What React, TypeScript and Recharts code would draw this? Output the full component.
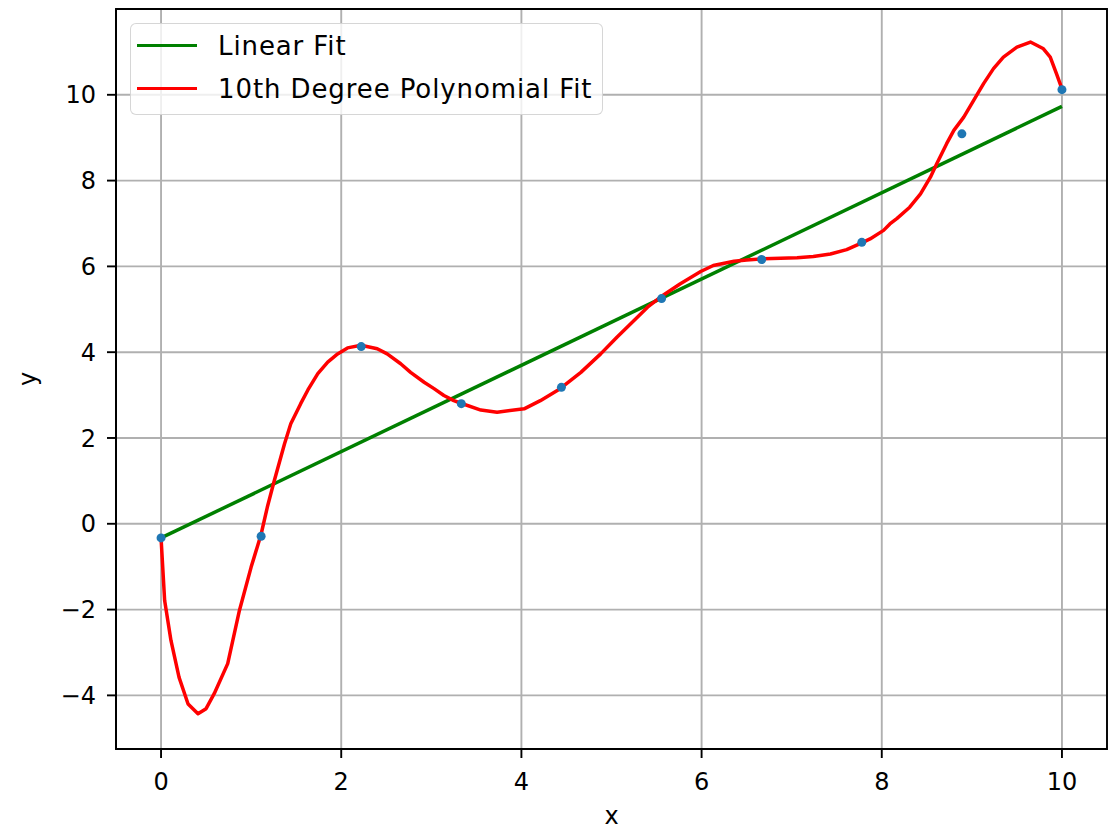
import { ComposedChart, Line, Scatter, XAxis, YAxis, CartesianGrid, ReferenceArea } from 'recharts';

const FONT = '"DejaVu Sans", sans-serif';
const GREEN = '#008000';
const RED = '#ff0000';
const BLUE = '#1f77b4';

// observed samples
const sampleX = [0, 1.111, 2.222, 3.333, 4.444, 5.556, 6.667, 7.778, 8.889, 10];
const sampleY = [-0.33, -0.29, 4.13, 2.8, 3.18, 5.25, 6.16, 6.56, 9.09, 10.12];

// linear fit end points
const linearX = [0, 10];
const linearY = [-0.33, 9.73];

// 10th degree polynomial
const polyX = [
  0, 0.04, 0.11, 0.2, 0.3, 0.41, 0.5, 0.59, 0.74, 0.87, 1.0, 1.11, 1.18, 1.25, 1.37, 1.44,
  1.55, 1.63, 1.74, 1.85, 1.96, 2.07, 2.22, 2.4, 2.51, 2.66, 2.77, 2.92, 3.03, 3.14, 3.25,
  3.33, 3.55, 3.73, 4.03, 4.21, 4.43, 4.66, 4.88, 5.06, 5.25, 5.4, 5.54, 5.76, 5.99, 6.13,
  6.36, 6.5, 6.69, 7.06, 7.24, 7.43, 7.61, 7.76, 7.87, 8.02, 8.09, 8.17, 8.31, 8.43, 8.54,
  8.61, 8.72, 8.8, 8.91, 9.02, 9.13, 9.24, 9.35, 9.5, 9.65, 9.79, 9.87, 9.94, 10.0,
];
const polyY = [
  -0.33, -1.79, -2.72, -3.58, -4.2, -4.43, -4.31, -3.96, -3.26, -2.02, -1.01, -0.25, 0.39,
  0.95, 1.86, 2.33, 2.8, 3.12, 3.5, 3.77, 3.96, 4.1, 4.16, 4.08, 3.96, 3.73, 3.53, 3.3, 3.15,
  2.99, 2.87, 2.81, 2.65, 2.6, 2.68, 2.87, 3.15, 3.53, 3.96, 4.35, 4.74, 5.05, 5.28, 5.59,
  5.88, 6.02, 6.12, 6.15, 6.18, 6.2, 6.23, 6.29, 6.39, 6.53, 6.64, 6.84, 6.99, 7.12, 7.38,
  7.69, 8.08, 8.39, 8.86, 9.17, 9.48, 9.87, 10.26, 10.61, 10.88, 11.11, 11.23, 11.08, 10.88,
  10.49, 10.14,
];

const xTicks = [0, 2, 4, 6, 8, 10];
const yTicks = [-4, -2, 0, 2, 4, 6, 8, 10];
const xDomain = [-0.5, 10.5];
const yDomain = [-5.25, 12.0];

const samples = sampleX.map((x, i) => ({ x, y: sampleY[i] }));
const linear = linearX.map((x, i) => ({ x, y: linearY[i] }));
const poly = polyX.map((x, i) => ({ x, y: polyY[i] }));

const fmt = (v: number) => (v < 0 ? `\u2212${-v}` : `${v}`);

const tickStyle = { fill: '#000', fontSize: 24, fontFamily: FONT };
const spine = { stroke: '#000', strokeWidth: 1.9 };

const YTitle = ({ viewBox }: { viewBox?: { x: number; y: number; width: number; height: number } }) => {
  if (!viewBox) return null;
  const cy = viewBox.y + viewBox.height / 2;
  return (
    <text x={36} y={cy} transform={`rotate(-90, 36, ${cy})`} textAnchor="middle" fill="#000" fontSize={24} fontFamily={FONT}>
      y
    </text>
  );
};

const LegendBox = () => (
  <div
    style={{
      position: 'absolute',
      left: 130,
      top: 23,
      width: 471,
      height: 90,
      border: '1.5px solid rgba(204,204,204,0.8)',
      borderRadius: 6,
      background: 'rgba(255,255,255,0.8)',
      fontFamily: FONT,
      fontSize: 26,
      letterSpacing: 0.9,
      color: '#000',
    }}
  >
    {[
      { name: 'Linear Fit', color: GREEN },
      { name: '10th Degree Polynomial Fit', color: RED },
    ].map((item) => (
      <div key={item.name} style={{ display: 'flex', alignItems: 'center', height: 43 }}>
        <div style={{ marginLeft: 6, width: 60, height: 3.5, background: item.color }} />
        <span style={{ marginLeft: 21, lineHeight: '26px', whiteSpace: 'nowrap' }}>{item.name}</span>
      </div>
    ))}
  </div>
);

export default function App() {
  return (
    <div style={{ position: 'absolute', left: 0, top: 0, width: 1119, height: 830, background: '#fff' }}>
      <ComposedChart width={1119} height={830} margin={{ top: 9, right: 12, bottom: 0, left: 0 }}>
        <CartesianGrid stroke="#b0b0b0" strokeWidth={1.9} />
        <XAxis
          dataKey="x"
          type="number"
          domain={xDomain}
          allowDataOverflow
          ticks={xTicks}
          tickFormatter={fmt}
          tick={tickStyle}
          tickSize={9}
          tickMargin={15}
          tickLine={spine}
          axisLine={spine}
          height={81}
          label={{ value: 'x', position: 'insideBottom', offset: 6, fill: '#000', fontSize: 24, fontFamily: FONT }}
        />
        <YAxis
          dataKey="y"
          type="number"
          domain={yDomain}
          allowDataOverflow
          ticks={yTicks}
          tickFormatter={fmt}
          tick={tickStyle}
          tickSize={9}
          tickMargin={11}
          tickLine={spine}
          axisLine={spine}
          width={116}
          label={<YTitle />}
        />
        <ReferenceArea
          x1={xDomain[0]}
          x2={xDomain[1]}
          y1={yDomain[0]}
          y2={yDomain[1]}
          fill="none"
          fillOpacity={0}
          stroke="#000"
          strokeWidth={1.9}
          strokeOpacity={1}
          ifOverflow="visible"
        />
        <Scatter
          data={samples}
          dataKey="y"
          isAnimationActive={false}
          shape={(p: { cx?: number; cy?: number }) => <circle cx={p.cx} cy={p.cy} r={4.5} fill={BLUE} />}
        />
        <Line data={linear} dataKey="y" type="linear" stroke={GREEN} strokeWidth={3.5} dot={false} isAnimationActive={false} />
        <Line data={poly} dataKey="y" type="linear" stroke={RED} strokeWidth={3.5} strokeLinejoin="round" dot={false} isAnimationActive={false} />
      </ComposedChart>
      <LegendBox />
    </div>
  );
}
